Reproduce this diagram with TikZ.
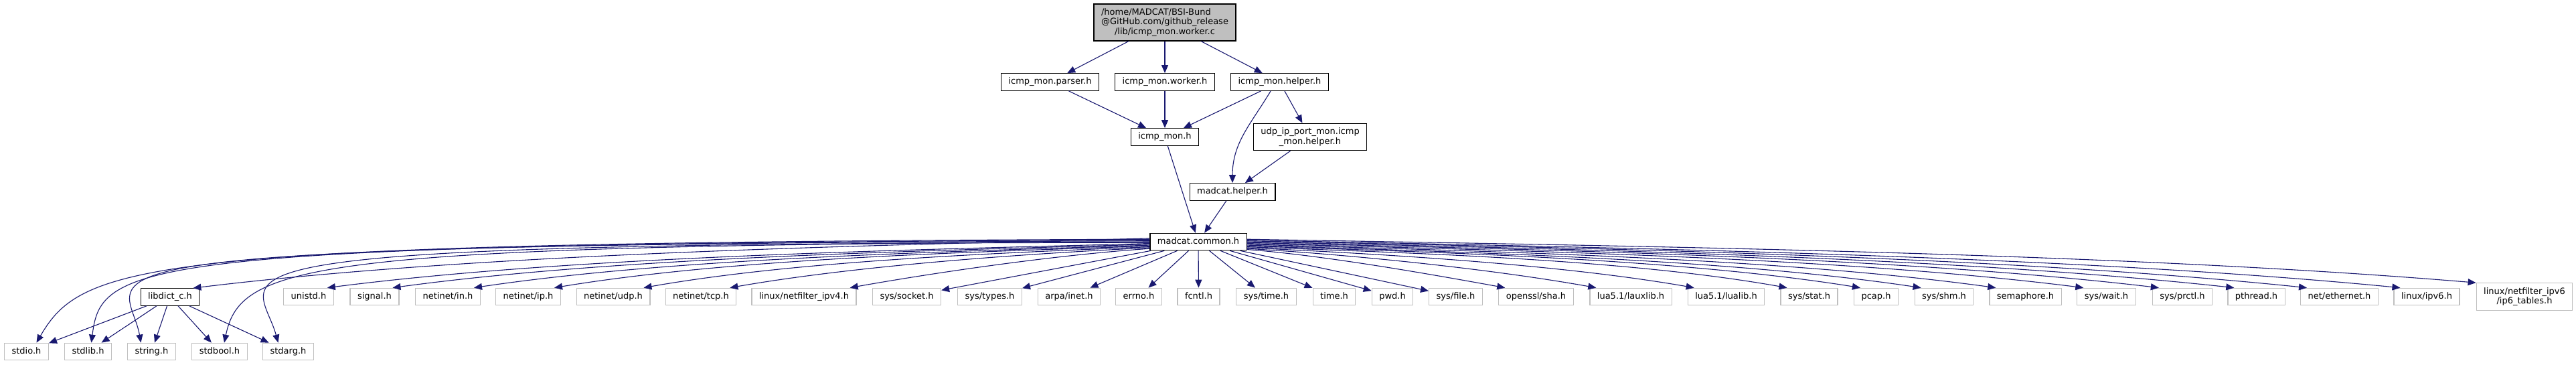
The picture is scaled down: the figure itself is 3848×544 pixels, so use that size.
\documentclass[tikz,border=0pt]{standalone}
\usepackage{fontspec}
\setmainfont{DejaVu Sans}
\usepackage{tikz}
\usetikzlibrary{arrows.meta}
\definecolor{depblue}{HTML}{191970}
\definecolor{boxgrey}{HTML}{BFBFBF}
\definecolor{rootgrey}{HTML}{BFBFBF}
\tikzset{
  hdr/.style={draw, line width=1.2pt, fill=white, font=\fontsize{13pt}{14.5pt}\selectfont,
    inner xsep=11pt, inner ysep=6.5pt, text height=9.5pt, text depth=3pt},
  prjhdr/.style={hdr, draw=black},
  syshdr/.style={hdr, draw=boxgrey},
  twoline/.style={align=center, text height=, text depth=},
  dep/.style={draw=depblue, line width=1.1pt, -{Triangle[length=12pt,width=10pt]}}
}
\begin{document}
\begin{tikzpicture}[x=1pt, y=-1pt]
\useasboundingbox (0,0) rectangle (3848,544);

\node[prjhdr, fill=rootgrey, twoline] (root) at (1740,33.5) {\rlap{/home/MADCAT/BSI-Bund}\phantom{@GitHub.com/github\_release}\\@GitHub.com/github\_release\\/lib/icmp\_mon.worker.c};
\node[prjhdr] (parser) at (1568.5,122.5) {icmp\_mon.parser.h};
\node[prjhdr] (worker) at (1740,122.5) {icmp\_mon.worker.h};
\node[prjhdr] (helper) at (1911.5,122.5) {icmp\_mon.helper.h};
\node[prjhdr] (icmp) at (1740,204.5) {icmp\_mon.h};
\node[prjhdr, twoline] (udpicmp) at (1957,204.5) {udp\_ip\_port\_mon.icmp\\\_mon.helper.h};
\node[prjhdr] (mhelper) at (1841,286.5) {madcat.helper.h};
\node[prjhdr] (common) at (1790,361) {madcat.common.h};

\node[prjhdr] (libdict) at (254,443.5) {libdict\_c.h};
\node[syshdr] (unistd) at (461,443) {unistd.h};
\node[syshdr] (signal) at (559.5,443) {signal.h};
\node[syshdr] (netin) at (669,443) {netinet/in.h};
\node[syshdr] (netip) at (789,443) {netinet/ip.h};
\node[syshdr] (netudp) at (916,443) {netinet/udp.h};
\node[syshdr] (nettcp) at (1047,443) {netinet/tcp.h};
\node[syshdr] (nfipv4) at (1201,443) {linux/netfilter\_ipv4.h};
\node[syshdr] (socket) at (1354.5,443) {sys/socket.h};
\node[syshdr] (types) at (1478.5,443) {sys/types.h};
\node[syshdr] (inet) at (1597,443) {arpa/inet.h};
\node[syshdr] (errno) at (1701,443) {errno.h};
\node[syshdr] (fcntl) at (1790.5,443) {fcntl.h};
\node[syshdr] (systime) at (1891.5,443) {sys/time.h};
\node[syshdr] (time) at (1993,443) {time.h};
\node[syshdr] (pwd) at (2080,443) {pwd.h};
\node[syshdr] (file) at (2174.5,443) {sys/file.h};
\node[syshdr] (sha) at (2294.5,443) {openssl/sha.h};
\node[syshdr] (lauxlib) at (2436,443) {lua5.1/lauxlib.h};
\node[syshdr] (lualib) at (2578.5,443) {lua5.1/lualib.h};
\node[syshdr] (stat) at (2702.5,443) {sys/stat.h};
\node[syshdr] (pcap) at (2802.5,443) {pcap.h};
\node[syshdr] (shm) at (2904,443) {sys/shm.h};
\node[syshdr] (semaphore) at (3025.5,443) {semaphore.h};
\node[syshdr] (wait) at (3146.5,443) {sys/wait.h};
\node[syshdr] (prctl) at (3260,443) {sys/prctl.h};
\node[syshdr] (pthread) at (3370.5,443) {pthread.h};
\node[syshdr] (ethernet) at (3494.5,443) {net/ethernet.h};
\node[syshdr] (ipv6) at (3625,443) {linux/ipv6.h};
\node[syshdr, twoline] (ip6tables) at (3771,443) {linux/netfilter\_ipv6\\/ip6\_tables.h};

\node[syshdr] (stdio) at (39.5,525) {stdio.h};
\node[syshdr] (stdlib) at (131.5,525) {stdlib.h};
\node[syshdr] (string) at (226.5,525) {string.h};
\node[syshdr] (stdbool) at (328,525) {stdbool.h};
\node[syshdr] (stdarg) at (430.5,525) {stdarg.h};

\draw[dep] (root) -- (parser);
\draw[dep] (root) -- (worker);
\draw[dep] (root) -- (helper);
\draw[dep] (parser) -- (icmp);
\draw[dep] (worker) -- (icmp);
\draw[dep] (helper) -- (icmp);
\draw[dep] (helper) -- (udpicmp);
\draw[dep] (helper.225) .. controls +(-30,50) and +(0,-60) .. (mhelper.north);
\draw[dep] (udpicmp) -- (mhelper);
\draw[dep] (icmp) -- (common);
\draw[dep] (mhelper) -- (common);

\draw[dep] (common.176) .. controls +(-429,11) and +(429,-52) .. ([xshift=-10pt]libdict.north east);
\draw[dep] (common.177) .. controls +(-1498,5) and +(70,-120) .. ([xshift=15pt]stdio.north);
\draw[dep] (common.178) .. controls +(-1518,5) and +(15,-120) .. ([xshift=5pt]stdlib.north);
\draw[dep] (common.179) .. controls +(-1718,5) and +(-20,-112) .. ([xshift=-16pt]string.north);
\draw[dep] (common.180) .. controls +(-1245,5) and +(25,-120) .. ([xshift=7pt]stdbool.north);
\draw[dep] (common.181) .. controls +(-1500,0) and +(-30,-110) .. ([xshift=-15pt]stdarg.north);
\draw[dep] (common.182) .. controls +(-369,10) and +(369,-47) .. ([xshift=-10pt]unistd.north east);
\draw[dep] (common.183) .. controls +(-340,10) and +(340,-46) .. ([xshift=-10pt]signal.north east);
\draw[dep] (common.184) .. controls +(-303,10) and +(303,-45) .. ([xshift=-10pt]netin.north east);
\draw[dep] (common.185) .. controls +(-267,9) and +(267,-44) .. ([xshift=-10pt]netip.north east);
\draw[dep] (common.186) .. controls +(-227,9) and +(227,-40) .. ([xshift=-10pt]netudp.north east);
\draw[dep] (common.187) .. controls +(-189,9) and +(189,-33) .. ([xshift=-10pt]nettcp.north east);
\draw[dep] (common.188) .. controls +(-135,9) and +(135,-24) .. ([xshift=-10pt]nfipv4.north east);
\draw[dep] (common) -- (socket);
\draw[dep] (common) -- (types);
\draw[dep] (common) -- (inet);
\draw[dep] (common) -- (errno);
\draw[dep] (common) -- (fcntl);
\draw[dep] (common) -- (systime);
\draw[dep] (common) -- (time);
\draw[dep] (common) -- (pwd);
\draw[dep] (common) -- (file);
\draw[dep] (common.351) .. controls +(116,9) and +(-116,-21) .. ([xshift=10pt]sha.north west);
\draw[dep] (common.352) .. controls +(157,9) and +(-157,-28) .. ([xshift=10pt]lauxlib.north west);
\draw[dep] (common.353) .. controls +(201,9) and +(-201,-35) .. ([xshift=10pt]lualib.north west);
\draw[dep] (common.354) .. controls +(242,9) and +(-242,-43) .. ([xshift=10pt]stat.north west);
\draw[dep] (common.355) .. controls +(275,9) and +(-275,-44) .. ([xshift=10pt]pcap.north west);
\draw[dep] (common.356) .. controls +(302,10) and +(-302,-45) .. ([xshift=10pt]shm.north west);
\draw[dep] (common.357) .. controls +(336,10) and +(-336,-46) .. ([xshift=10pt]semaphore.north west);
\draw[dep] (common.358) .. controls +(375,10) and +(-375,-47) .. ([xshift=10pt]wait.north west);
\draw[dep] (common.359) .. controls +(409,10) and +(-409,-48) .. ([xshift=10pt]prctl.north west);
\draw[dep] (common.0) .. controls +(443,10) and +(-443,-48) .. ([xshift=10pt]pthread.north west);
\draw[dep] (common.1) .. controls +(476,10) and +(-476,-49) .. ([xshift=10pt]ethernet.north west);
\draw[dep] (common.2) .. controls +(517,11) and +(-517,-50) .. ([xshift=10pt]ipv6.north west);
\draw[dep] (common.3) .. controls +(551,10) and +(-551,-46) .. (ip6tables.north west);

\draw[dep] (libdict) -- (stdio);
\draw[dep] (libdict) -- (stdlib);
\draw[dep] (libdict) -- (string);
\draw[dep] (libdict) -- (stdbool);
\draw[dep] (libdict) -- (stdarg);
\end{tikzpicture}
\end{document}
